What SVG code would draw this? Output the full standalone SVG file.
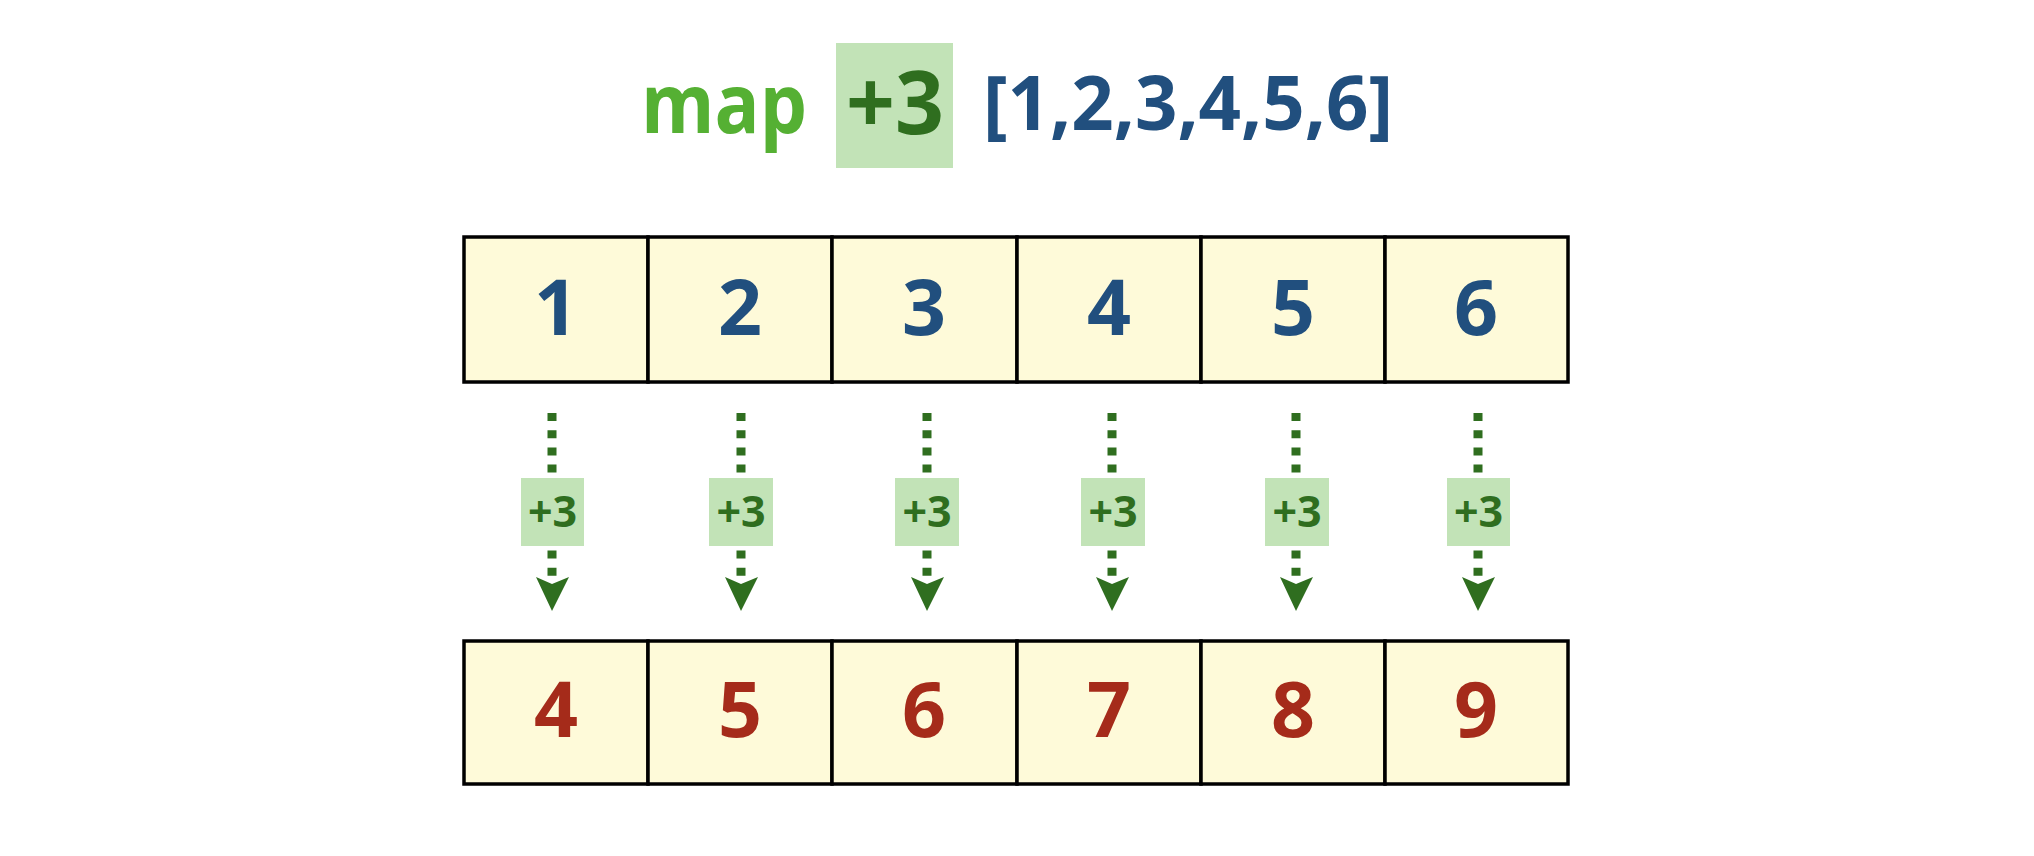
<svg xmlns="http://www.w3.org/2000/svg" width="2034" height="856" viewBox="0 0 2034 856">
<style>
  .t { font-family: "Open Sans", "Lato", "Noto Sans", sans-serif; font-weight: 700; }
  .cell { fill: #fefad9; stroke: #000; stroke-width: 3.5; }
  .in { fill: #214f7e; font-size: 77px; text-anchor: middle; }
  .out { fill: #a52b1a; font-size: 77px; text-anchor: middle; }
  .conn { stroke: #2f6e1f; stroke-width: 9; stroke-dasharray: 8 9.2; fill: none; }
  .head { fill: #2f6e1f; }
  .lbox { fill: #c2e3b7; }
  .ltxt { fill: #2f6e1f; font-size: 43px; text-anchor: middle; }
</style>
<rect width="2034" height="856" fill="#ffffff"/>
<g id="title">
  <text class="t" x="641" y="133" font-size="82" fill="#55b033" textLength="166" lengthAdjust="spacingAndGlyphs">map</text>
  <rect x="836" y="43" width="117" height="125" fill="#c2e3b7"/>
  <text class="t" x="846" y="134" font-size="88" fill="#2f6e1f" textLength="98" lengthAdjust="spacingAndGlyphs">+3</text>
  <text class="t" x="983" y="130" font-size="75" fill="#214f7e" textLength="410" lengthAdjust="spacingAndGlyphs">[1,2,3,4,5,6]</text>
</g>
<g id="input-list">
  <rect class="cell" x="464" y="237" width="184" height="145"/>
  <rect class="cell" x="648" y="237" width="184" height="145"/>
  <rect class="cell" x="832" y="237" width="185" height="145"/>
  <rect class="cell" x="1017" y="237" width="184" height="145"/>
  <rect class="cell" x="1201" y="237" width="184" height="145"/>
  <rect class="cell" x="1385" y="237" width="183" height="145"/>
  <text class="t in" x="556" y="335">1</text>
  <text class="t in" x="740" y="335">2</text>
  <text class="t in" x="924" y="335">3</text>
  <text class="t in" x="1109" y="335">4</text>
  <text class="t in" x="1293" y="335">5</text>
  <text class="t in" x="1476" y="335">6</text>
</g>
<g id="connectors">
  <g id="c1"><line class="conn" x1="552" y1="413" x2="552" y2="577"/><polygon class="head" points="536,577 552,584 569,577 552,611"/></g>
  <g id="c2"><line class="conn" x1="741" y1="413" x2="741" y2="577"/><polygon class="head" points="725,577 741,584 758,577 741,611"/></g>
  <g id="c3"><line class="conn" x1="927" y1="413" x2="927" y2="577"/><polygon class="head" points="911,577 927,584 944,577 927,611"/></g>
  <g id="c4"><line class="conn" x1="1112" y1="413" x2="1112" y2="577"/><polygon class="head" points="1096,577 1112,584 1129,577 1112,611"/></g>
  <g id="c5"><line class="conn" x1="1296" y1="413" x2="1296" y2="577"/><polygon class="head" points="1280,577 1296,584 1313,577 1296,611"/></g>
  <g id="c6"><line class="conn" x1="1478" y1="413" x2="1478" y2="577"/><polygon class="head" points="1462,577 1478,584 1495,577 1478,611"/></g>
</g>
<g id="labels">
  <g id="l1"><rect class="lbox" x="521" y="478" width="63" height="68"/><text class="t ltxt" x="552.5" y="527">+3</text></g>
  <g id="l2"><rect class="lbox" x="709" y="478" width="64" height="68"/><text class="t ltxt" x="741" y="527">+3</text></g>
  <g id="l3"><rect class="lbox" x="895" y="478" width="64" height="68"/><text class="t ltxt" x="927" y="527">+3</text></g>
  <g id="l4"><rect class="lbox" x="1081" y="478" width="64" height="68"/><text class="t ltxt" x="1113" y="527">+3</text></g>
  <g id="l5"><rect class="lbox" x="1265" y="478" width="64" height="68"/><text class="t ltxt" x="1297" y="527">+3</text></g>
  <g id="l6"><rect class="lbox" x="1447" y="478" width="63" height="68"/><text class="t ltxt" x="1478.5" y="527">+3</text></g>
</g>
<g id="output-list">
  <rect class="cell" x="464" y="641" width="184" height="143"/>
  <rect class="cell" x="648" y="641" width="184" height="143"/>
  <rect class="cell" x="832" y="641" width="185" height="143"/>
  <rect class="cell" x="1017" y="641" width="184" height="143"/>
  <rect class="cell" x="1201" y="641" width="184" height="143"/>
  <rect class="cell" x="1385" y="641" width="183" height="143"/>
  <text class="t out" x="556" y="737">4</text>
  <text class="t out" x="740" y="737">5</text>
  <text class="t out" x="924" y="737">6</text>
  <text class="t out" x="1109" y="737">7</text>
  <text class="t out" x="1293" y="737">8</text>
  <text class="t out" x="1476" y="737">9</text>
</g>
</svg>
